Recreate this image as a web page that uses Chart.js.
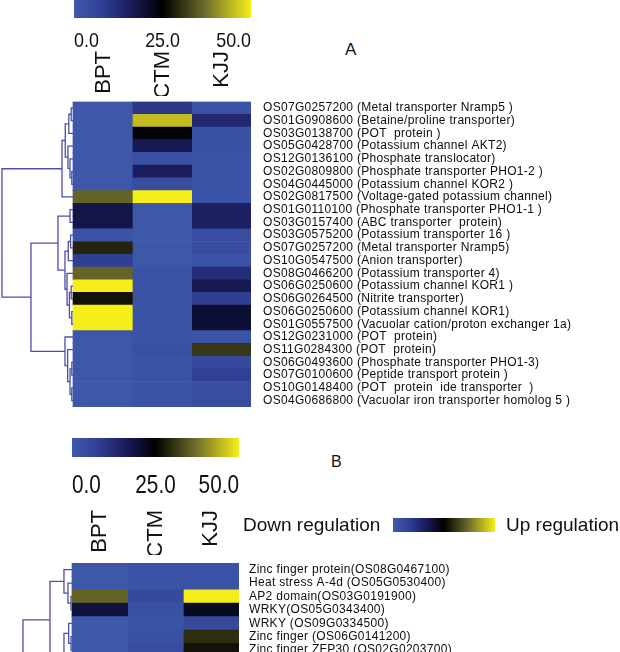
<!DOCTYPE html>
<html>
<head>
<meta charset="utf-8">
<script src="https://cdn.jsdelivr.net/npm/chart.js@4.4.1/dist/chart.umd.min.js"></script>
<style>
    html, body { margin: 0; padding: 0; background: #fff; }
    #page { position: relative; width: 620px; height: 652px; overflow: hidden; font-family: "Liberation Sans", Arial, sans-serif; color: #111; }
    canvas { position: absolute; }
    .txt { position: absolute; white-space: nowrap; line-height: 1; }
</style>
</head>
<body>
<div id="page">
    <canvas id="cbA" width="300" height="100" style="left:0;top:0"></canvas>
    <canvas id="heatA" width="620" height="320" style="left:0;top:95px"></canvas>
    <canvas id="cbB" width="300" height="125" style="left:0;top:438px"></canvas>
    <canvas id="legendBar" width="102" height="14" style="left:393px;top:518px"></canvas>
    <canvas id="heatB" width="620" height="110" style="left:0;top:555px"></canvas>
    <div class="txt" style="left:345px;top:41px;font-size:17px">A</div>
    <div class="txt" style="left:331px;top:454px;font-size:16px">B</div>
    <div class="txt" style="left:243px;top:515px;font-size:19px">Down regulation</div>
    <div class="txt" style="left:506px;top:515px;font-size:19px">Up regulation</div>
</div>
<script>
const samples = ["BPT", "CTM", "KJJ"];
const scaleTicks = [0, 25, 50];

// panel A: transporter genes
const genesA = [
    "OS07G0257200 (Metal transporter Nramp5 )",
    "OS01G0908600 (Betaine/proline transporter)",
    "OS03G0138700 (POT  protein )",
    "OS05G0428700 (Potassium channel AKT2)",
    "OS12G0136100 (Phosphate translocator)",
    "OS02G0809800 (Phosphate transporter PHO1-2 )",
    "OS04G0445000 (Potassium channel KOR2 )",
    "OS02G0817500 (Voltage-gated potassium channel)",
    "OS01G0110100 (Phosphate transporter PHO1-1 )",
    "OS03G0157400 (ABC transporter  protein)",
    "OS03G0575200 (Potassium transporter 16 )",
    "OS07G0257200 (Metal transporter Nramp5)",
    "OS10G0547500 (Anion transporter)",
    "OS08G0466200 (Potassium transporter 4)",
    "OS06G0250600 (Potassium channel KOR1 )",
    "OS06G0264500 (Nitrite transporter)",
    "OS06G0250600 (Potassium channel KOR1)",
    "OS01G0557500 (Vacuolar cation/proton exchanger 1a)",
    "OS12G0231000 (POT  protein)",
    "OS11G0284300 (POT  protein)",
    "OS06G0493600 (Phosphate transporter PHO1-3)",
    "OS07G0100600 (Peptide transport protein )",
    "OS10G0148400 (POT  protein  ide transporter  )",
    "OS04G0686800 (Vacuolar iron transporter homolog 5 )"
];
const bptA = [1, 1, 1, 1, 1, 1, 1, 36, 18, 18, 2, 29, 8, 36, 50, 27, 50, 50, 1, 1, 1, 1, 1, 1];
const ctmA = [10, 45, 24, 17, 3, 16, 4, 50, 1, 1, 1, 1, 1, 2, 2, 2, 2, 2, 2, 3, 2, 2, 2, 2];
const kjjA = [2, 13, 3, 3, 2, 2, 2, 2, 15, 15, 4, 4, 2, 12, 17, 8, 20, 20, 2, 31, 5, 8, 4, 4];
// row tree: [left, right, height], leaves are row indexes
const treeA = [
    [[[[0, 1, 0.03], 2, 0.07], [3, [4, [5, 6, 0.02], 0.05], 0.085], 0.13], 7, 0.185],
    [
        [[8, 9, 0.05], [[[10, 11, 0.04], 12, 0.08], [13, [[14, 15, 0.03], [16, 17, 0.02], 0.06], 0.1], 0.135], 0.253],
        [18, [19, [[20, 21, 0.02], [22, 23, 0.02], 0.05], 0.09], 0.135],
        0.708
    ],
    1.197
];

// panel B: transcription factors (cut off at the bottom of the figure)
const genesB = [
    "Zinc finger protein(OS08G0467100)",
    "Heat stress A-4d (OS05G0530400)",
    "AP2 domain(OS03G0191900)",
    "WRKY(OS05G0343400)",
    "WRKY (OS09G0334500)",
    "Zinc finger (OS06G0141200)",
    "Zinc finger ZFP30 (OS02G0203700)"
];
const bptB = [1, 1, 36, 19, 1, 1, 1];
const ctmB = [2, 2, 5, 3, 2, 3, 4];
const kjjB = [2, 2, 50, 22, 5, 30, 27];
// leaves 7+ are rows below the crop
const treeB = [
    [
        [0, [1, [2, 3, 0.018], 0.072], 0.144],
        [[4, [5, 6, 0.018], 0.06], [[7, 8, 0.02], [9, 10, 0.02], 0.05], 0.144],
        0.395
    ],
    18,
    0.88
];

const colorStops = [
    [0, [63, 90, 172]],
    [8, [48, 62, 148]],
    [16, [26, 28, 92]],
    [25, [0, 0, 0]],
    [37, [110, 108, 44]],
    [50, [246, 238, 24]]
];

function heatColor(v) {
    for (let i = 1; i < colorStops.length; i++) {
        const [v0, c0] = colorStops[i - 1];
        const [v1, c1] = colorStops[i];
        if (v <= v1) {
            const t = Math.max(0, (v - v0) / (v1 - v0));
            return `rgb(${c0.map((c, k) => Math.round(c + (c1[k] - c) * t)).join(",")})`;
        }
    }
    return `rgb(${colorStops[colorStops.length - 1][1].join(",")})`;
}

function gradientFill(context) {
    const area = context.chart.chartArea;
    if (!area) return null;
    const g = context.chart.ctx.createLinearGradient(area.left, 0, area.right, 0);
    const max = scaleTicks[scaleTicks.length - 1];
    colorStops.forEach(([v, rgb]) => g.addColorStop(v / max, `rgb(${rgb.join(",")})`));
    return g;
}

const regular = "'Liberation Sans', Arial, sans-serif";

// tick numbers in the figure are set in a condensed face; squeeze them horizontally
const narrowTicks = {
    id: "narrowTicks",
    afterDraw(chart, args, o) {
        if (!o.size) return;
        const s = chart.scales.x;
        const ctx = chart.ctx;
        ctx.save();
        ctx.fillStyle = "#111";
        ctx.font = `${o.size}px ${regular}`;
        ctx.textBaseline = "alphabetic";
        s.ticks.forEach((t, i) => {
            ctx.textAlign = i === 0 ? "left" : i === s.ticks.length - 1 ? "right" : "center";
            ctx.save();
            ctx.translate(s.getPixelForValue(t.value), s.top + o.baseline);
            ctx.scale(o.squeeze, 1);
            ctx.fillText(t.label, 0, 0);
            ctx.restore();
        });
        ctx.restore();
    }
};

function makeColorbar(id, o) {
    const scales = {
        x: {
            type: "linear", min: scaleTicks[0], max: scaleTicks[scaleTicks.length - 1],
            display: !!o.tickH, position: "bottom",
            grid: { display: false, drawTicks: false }, border: { display: false },
            ticks: {
                display: false, stepSize: scaleTicks[1] - scaleTicks[0], maxRotation: 0,
                callback: v => v.toFixed(1)
            },
            afterFit: s => { if (o.tickH) s.height = o.tickH; }
        },
        y: { type: "category", display: false }
    };
    if (o.colFont) {
        scales.cols = {
            type: "category", labels: samples, offset: true, position: "bottom",
            grid: { display: false, drawTicks: false }, border: { display: false },
            ticks: { font: o.colFont, color: "#111", padding: o.colPad, minRotation: 90, maxRotation: 90 },
            afterFit: s => { s.height = o.colH; }
        };
    }
    return new Chart(document.getElementById(id), {
        type: "bar",
        data: {
            labels: [""],
            datasets: [{
                data: [[scaleTicks[0], scaleTicks[scaleTicks.length - 1]]],
                backgroundColor: gradientFill,
                barPercentage: 1, categoryPercentage: 1, borderWidth: 0
            }]
        },
        options: {
            indexAxis: "y", responsive: false, animation: false, devicePixelRatio: 1, events: [],
            layout: { padding: o.padding },
            plugins: { legend: { display: false }, tooltip: { enabled: false }, narrowTicks: o.tickText || {} },
            scales
        },
        plugins: [narrowTicks]
    });
}

const dendroPlugin = {
    id: "dendro",
    beforeDraw(chart) { chart.ctx.letterSpacing = "0.3px"; },
    afterDatasetsDraw(chart, args, opts) {
        const { ctx, scales: { x, y } } = chart;
        ctx.save();
        ctx.strokeStyle = "#4e4ea8";
        ctx.lineWidth = 1.3;
        const walk = node => {
            if (typeof node === "number") return { pos: node, h: 0 };
            const [a, b, h] = node;
            const l = walk(a), r = walk(b);
            const xp = x.getPixelForValue(-h);
            ctx.beginPath();
            ctx.moveTo(x.getPixelForValue(-l.h), y.getPixelForValue(l.pos));
            ctx.lineTo(xp, y.getPixelForValue(l.pos));
            ctx.lineTo(xp, y.getPixelForValue(r.pos));
            ctx.lineTo(x.getPixelForValue(-r.h), y.getPixelForValue(r.pos));
            ctx.stroke();
            return { pos: (l.pos + r.pos) / 2, h };
        };
        walk(opts.tree);
        ctx.restore();
    },
    afterDraw(chart) { chart.ctx.letterSpacing = "0px"; }
};

function makeHeatmap(id, labels, cols, tree, o) {
    return new Chart(document.getElementById(id), {
        type: "bar",
        data: {
            labels,
            datasets: cols.map((vals, c) => ({
                label: samples[c],
                data: labels.map(() => [c, c + 1]),
                backgroundColor: vals.map(heatColor),
                grouped: false, barPercentage: 1, categoryPercentage: 1, borderWidth: 0
            }))
        },
        options: {
            indexAxis: "y", responsive: false, animation: false, devicePixelRatio: 1, events: [],
            layout: { padding: o.padding },
            plugins: { legend: { display: false }, tooltip: { enabled: false }, dendro: { tree } },
            scales: {
                x: { type: "linear", min: o.xMin, max: samples.length, display: false },
                y: {
                    position: "right",
                    grid: { display: false, drawTicks: false }, border: { display: false },
                    ticks: { autoSkip: false, padding: o.labelPad, color: "#0d0d0d", font: { family: regular, size: 12 } },
                    afterFit: s => {
                        s.width = o.axisW;
                        s.paddingTop = 0;
                        s.paddingBottom = 0;
                    }
                }
            }
        },
        plugins: [dendroPlugin]
    });
}

makeColorbar("cbA", {
    padding: { left: 74, right: 49, top: 0, bottom: 4 },
    tickH: 33, tickText: { size: 21, squeeze: 0.85, baseline: 28.5 },
    colFont: { family: regular, size: 22 }, colPad: 0, colH: 45
});
makeHeatmap("heatA", genesA, [bptA, ctmA, kjjA], treeA, {
    padding: { left: 0, top: 6.5, bottom: 8 }, xMin: -1.23, axisW: 369, labelPad: 12
});
makeColorbar("cbB", {
    padding: { left: 72, right: 61, top: 0, bottom: 8 },
    tickH: 53, tickText: { size: 25, squeeze: 0.83, baseline: 36 },
    colFont: { family: regular, size: 22 }, colPad: 0, colH: 45
});
makeColorbar("legendBar", { padding: 0 });
makeHeatmap("heatB", genesB, [bptB, ctmB, kjjB], treeB, {
    padding: { left: 0, top: 8, bottom: 8.2 }, xMin: -1.293, axisW: 381, labelPad: 10
});
</script>
</body>
</html>
